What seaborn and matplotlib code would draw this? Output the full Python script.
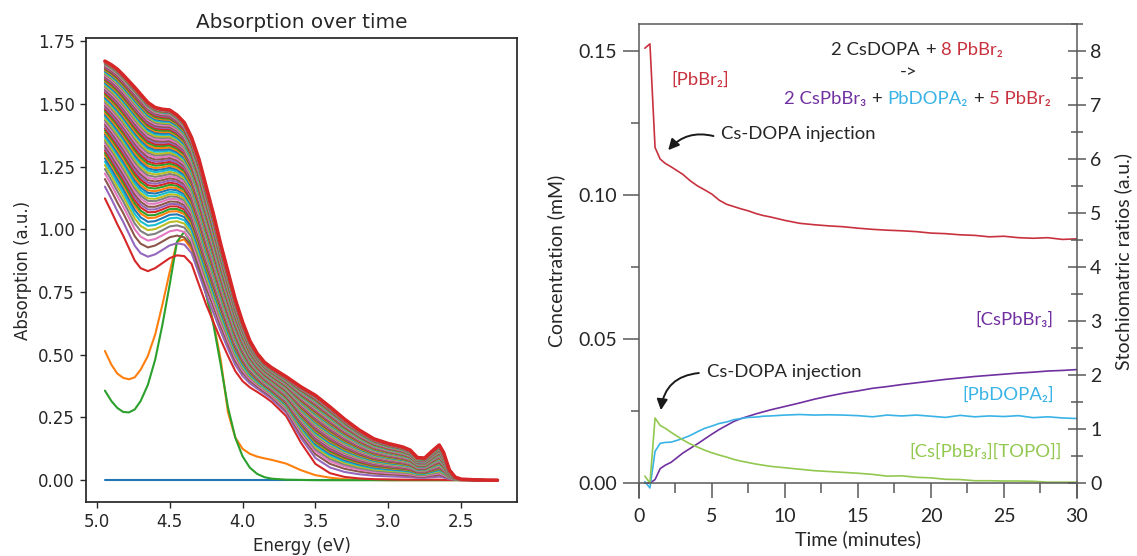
import numpy as np
import pandas as pd
import seaborn as sns
import matplotlib.pyplot as plt
from matplotlib.ticker import MultipleLocator, FormatStrFormatter

# ---------------- left panel: absorption spectra ----------------
energy = [4.945, 4.90, 4.86, 4.82, 4.78, 4.74, 4.70, 4.65, 4.60, 4.55,
          4.50, 4.45, 4.40, 4.35, 4.30, 4.25, 4.20, 4.15, 4.10, 4.05,
          4.00, 3.95, 3.90, 3.85, 3.80, 3.70, 3.60, 3.50, 3.40, 3.30,
          3.20, 3.10, 3.00, 2.90, 2.85, 2.80, 2.75, 2.70, 2.65, 2.62,
          2.58, 2.54, 2.50, 2.40, 2.25]

# precursor spectra (curves 0-2)
abs_blank = [0.0] * 45
abs_orange = [0.515, 0.460, 0.425, 0.408, 0.402, 0.410, 0.440, 0.495, 0.580, 0.700,
              0.830, 0.950, 0.960, 0.920, 0.840, 0.740, 0.630, 0.480, 0.270, 0.170,
              0.125, 0.105, 0.094, 0.087, 0.081, 0.066, 0.040, 0.020, 0.010, 0.004,
              0.002, 0.001, 0.0, 0.0, 0.0, 0.0, 0.0, 0.0, 0.0, 0.0,
              0.0, 0.0, 0.0, 0.0, 0.0]
abs_green = [0.357, 0.315, 0.288, 0.272, 0.270, 0.282, 0.315, 0.380, 0.480, 0.620,
             0.780, 0.950, 0.990, 0.940, 0.840, 0.740, 0.620, 0.460, 0.290, 0.170,
             0.095, 0.050, 0.025, 0.012, 0.006, 0.002, 0.001, 0.0, 0.0, 0.0,
             0.0, 0.0, 0.0, 0.0, 0.0, 0.0, 0.0, 0.0, 0.0, 0.0,
             0.0, 0.0, 0.0, 0.0, 0.0]

# first nanocrystal spectrum (curve 3) and final spectrum (top curve)
abs_first = [1.123, 1.070, 1.020, 0.975, 0.925, 0.875, 0.845, 0.833, 0.845, 0.865,
             0.885, 0.896, 0.893, 0.862, 0.780, 0.700, 0.630, 0.560, 0.495, 0.435,
             0.395, 0.370, 0.352, 0.333, 0.312, 0.255, 0.150, 0.065, 0.028, 0.013,
             0.007, 0.004, 0.003, 0.002, 0.002, 0.002, 0.002, 0.002, 0.002, 0.001,
             0.001, 0.001, 0.0, 0.0, 0.0]
abs_last = [1.670, 1.655, 1.638, 1.615, 1.590, 1.565, 1.538, 1.505, 1.485, 1.478,
            1.475, 1.455, 1.425, 1.365, 1.280, 1.170, 1.060, 0.940, 0.830, 0.720,
            0.630, 0.555, 0.505, 0.470, 0.448, 0.412, 0.372, 0.338, 0.292, 0.243,
            0.200, 0.165, 0.146, 0.132, 0.120, 0.090, 0.088, 0.115, 0.140, 0.110,
            0.040, 0.012, 0.004, 0.001, 0.0]

# absorption at 4.945 eV of each nanocrystal spectrum
edge_values = [1.123, 1.170, 1.200, 1.222, 1.240, 1.256, 1.270, 1.283, 1.295,
               1.304, 1.314, 1.323, 1.332, 1.342, 1.351, 1.359, 1.368,
               1.377, 1.385, 1.394, 1.402, 1.410, 1.418, 1.426, 1.434,
               1.442, 1.450, 1.457, 1.464, 1.472, 1.479, 1.486, 1.493,
               1.500, 1.507, 1.513, 1.520, 1.526, 1.532, 1.539, 1.545,
               1.551, 1.556, 1.562, 1.568, 1.573, 1.579, 1.584, 1.589,
               1.594, 1.599, 1.604, 1.608, 1.613, 1.618, 1.622, 1.626,
               1.630, 1.634, 1.638, 1.642, 1.646, 1.649, 1.653, 1.656,
               1.658, 1.659, 1.660, 1.661, 1.662, 1.663, 1.664, 1.665,
               1.666, 1.666, 1.667, 1.668, 1.668, 1.669, 1.669, 1.670]

# ---------------- right panel: concentrations ----------------
time_min = [0.4, 0.75, 1.1, 1.45, 1.8, 2.2, 2.6, 3.0, 3.5, 4.0,
            4.5, 5.0, 5.5, 6.0, 6.5, 7.0, 7.5, 8.0, 8.5, 9.0,
            10, 11, 12, 13, 14, 15, 16, 17, 18, 19,
            20, 21, 22, 23, 24, 25, 26, 27, 28, 29, 30]
conc_pbbr2 = [0.1510, 0.1525, 0.1165, 0.1125, 0.1110, 0.1098, 0.1085, 0.1072, 0.1050, 0.1032,
              0.1018, 0.1003, 0.0982, 0.0968, 0.0960, 0.0952, 0.0945, 0.0936, 0.0929, 0.0924,
              0.0912, 0.0902, 0.0897, 0.0893, 0.0890, 0.0885, 0.0881, 0.0878, 0.0876, 0.0873,
              0.0868, 0.0866, 0.0862, 0.0860, 0.0855, 0.0857, 0.0852, 0.0850, 0.0852, 0.0846, 0.0848]
conc_cspbbr3 = [0.0, 0.0, 0.0012, 0.0050, 0.0062, 0.0072, 0.0088, 0.0104, 0.0120, 0.0136,
                0.0153, 0.0170, 0.0186, 0.0200, 0.0214, 0.0224, 0.0232, 0.0240, 0.0247, 0.0254,
                0.0266, 0.0278, 0.0291, 0.0302, 0.0312, 0.0320, 0.0329, 0.0335, 0.0342, 0.0348,
                0.0354, 0.0360, 0.0365, 0.0370, 0.0374, 0.0378, 0.0382, 0.0385, 0.0389, 0.0391, 0.0394]
conc_pbdopa2 = [0.0005, -0.0017, 0.0110, 0.0138, 0.0141, 0.0142, 0.0148, 0.0155, 0.0165, 0.0178,
                0.0190, 0.0198, 0.0207, 0.0212, 0.0220, 0.0224, 0.0228, 0.0229, 0.0232, 0.0233,
                0.0236, 0.0238, 0.0236, 0.0237, 0.0236, 0.0234, 0.0230, 0.0236, 0.0233, 0.0236,
                0.0232, 0.0228, 0.0235, 0.0230, 0.0233, 0.0231, 0.0234, 0.0227, 0.0230, 0.0226, 0.0224]
conc_topo = [0.0024, 0.0, 0.0226, 0.0200, 0.0190, 0.0176, 0.0163, 0.0150, 0.0136, 0.0125,
             0.0114, 0.0105, 0.0097, 0.0090, 0.0082, 0.0076, 0.0071, 0.0066, 0.0062, 0.0058,
             0.0053, 0.0048, 0.0043, 0.0040, 0.0037, 0.0034, 0.0030, 0.0024, 0.0025, 0.0020,
             0.0018, 0.0013, 0.0012, 0.0008, 0.0008, 0.0007, 0.0007, 0.0006, 0.0003, 0.0003, 0.0003]

RED = '#c8323f'
PURPLE = '#7030a0'
CYAN = '#39b3e6'
GREEN = '#92c84f'
INK = '#262626'
GRAY = '#595959'

sns.set_theme(style="ticks")
plt.rcParams['font.family'] = ['DejaVu Sans']
plt.rcParams['font.size'] = 12
plt.rcParams['xtick.labelsize'] = 12
plt.rcParams['ytick.labelsize'] = 12
RFONT = ['Lato', 'Noto Sans', 'DejaVu Sans']
RTICK = 14
RTEXT = 13.3

fig = plt.figure(figsize=(11.37, 5.56), dpi=100)
ax1 = fig.add_axes([0.0756, 0.0971, 0.3791, 0.8345])
ax = fig.add_axes([0.5620, 0.1043, 0.3852, 0.8525])

# ---- spectra, long-form ----
spectra = [abs_blank, abs_orange, abs_green]
first = np.array(abs_first)
last = np.array(abs_last)
for v in edge_values:
    w = (v - edge_values[0]) / (edge_values[-1] - edge_values[0])
    spectra.append(first + w * (last - first))

rows = []
for k, spec in enumerate(spectra):
    for e, a in zip(energy, spec):
        rows.append((f"c{k:03d}", e, a))
df_abs = pd.DataFrame(rows, columns=['curve', 'energy', 'absorption'])
tab10 = sns.color_palette('tab10', 10)
levels = [f"c{k:03d}" for k in range(len(spectra))]
pal = {lev: tab10[k % 10] for k, lev in enumerate(levels)}

sns.lineplot(data=df_abs, x='energy', y='absorption', hue='curve', hue_order=levels,
             palette=pal, legend=False, sort=False, estimator=None, lw=1.5, ax=ax1)
sns.lineplot(data=df_abs[df_abs.curve == levels[-1]], x='energy', y='absorption',
             color=pal[levels[-1]], sort=False, estimator=None, lw=2.6, ax=ax1)

ax1.set_xlim(5.075, 2.116)
ax1.set_ylim(-0.087, 1.762)
ax1.xaxis.set_major_locator(MultipleLocator(0.5))
ax1.yaxis.set_major_locator(MultipleLocator(0.25))
ax1.yaxis.set_major_formatter(FormatStrFormatter('%.2f'))
ax1.set_title('Absorption over time', fontsize=14.4, pad=7)
ax1.set_xlabel('Energy (eV)', fontsize=12)
ax1.set_ylabel('Absorption (a.u.)', fontsize=12)
ax1.tick_params(length=4.5, width=1.0)

# ---- concentrations ----
df_c = pd.DataFrame({
    'time': time_min * 4,
    'conc': conc_pbbr2 + conc_cspbbr3 + conc_pbdopa2 + conc_topo,
    'species': ['PbBr2'] * len(time_min) + ['CsPbBr3'] * len(time_min)
               + ['PbDOPA2'] * len(time_min) + ['TOPO'] * len(time_min),
})
sns.lineplot(data=df_c, x='time', y='conc', hue='species',
             hue_order=['PbBr2', 'CsPbBr3', 'PbDOPA2', 'TOPO'],
             palette={'PbBr2': RED, 'CsPbBr3': PURPLE, 'PbDOPA2': CYAN, 'TOPO': GREEN},
             legend=False, sort=False, estimator=None, lw=1.2, ax=ax)

ax.set_xlim(0, 30)
ax.set_ylim(-0.0052, 0.1594)
ax.spines['bottom'].set_position(('data', 0))
ax.spines['right'].set_visible(False)
for s in ['left', 'bottom', 'top']:
    ax.spines[s].set_color(GRAY)
    ax.spines[s].set_linewidth(1.1)
ax.xaxis.set_major_locator(MultipleLocator(5))
ax.xaxis.set_minor_locator(MultipleLocator(2.5))
ax.yaxis.set_major_locator(MultipleLocator(0.05))
ax.yaxis.set_minor_locator(MultipleLocator(0.025))
ax.yaxis.set_major_formatter(FormatStrFormatter('%.2f'))
ax.tick_params(axis='x', which='major', direction='out', length=11, width=1.1, color=GRAY,
               pad=7, labelsize=RTICK, labelcolor=INK, labelfontfamily=RFONT)
ax.tick_params(axis='x', which='minor', direction='out', length=7, width=1.1, color=GRAY)
ax.tick_params(axis='y', which='major', direction='out', length=11.5, width=1.1, color=GRAY,
               pad=4, labelsize=RTICK, labelcolor=INK, labelfontfamily=RFONT)
ax.tick_params(axis='y', which='minor', direction='out', length=5.5, width=1.1, color=GRAY)
ax.set_xlabel('Time (minutes)', fontsize=RTICK, color=INK, family=RFONT, labelpad=4)
ax.set_ylabel('Concentration (mM)', fontsize=RTICK, color=INK, family=RFONT, labelpad=10)

ax2 = ax.twinx()
ax2.set_ylim(-0.278, 8.5)
ax2.spines['bottom'].set_visible(False)
ax2.spines['left'].set_visible(False)
ax2.spines['top'].set_visible(False)
ax2.spines['right'].set_color(GRAY)
ax2.spines['right'].set_linewidth(1.1)
ax2.yaxis.set_major_locator(MultipleLocator(1))
ax2.yaxis.set_minor_locator(MultipleLocator(0.5))
ax2.tick_params(axis='y', which='major', direction='inout', length=13, width=1.1, color=GRAY,
                pad=3, labelsize=RTICK, labelcolor=INK, labelfontfamily=RFONT)
ax2.tick_params(axis='y', which='minor', direction='inout', length=9, width=1.1, color=GRAY)
ax2.set_ylabel('Stochiomatric ratios (a.u.)', fontsize=RTICK, color=INK, family=RFONT, labelpad=9)

tkw = dict(fontsize=RTEXT, family=RFONT)


def colored_line(x, y, parts, gap=3.8):
    t = ax.text(x, y, parts[0][0], color=parts[0][1], transform=ax.transAxes,
                ha='left', va='center', **tkw)
    for s, c in parts[1:]:
        t = ax.annotate(s, xy=(1, 0), xycoords=t, xytext=(gap, 0), textcoords='offset points',
                        ha='left', va='bottom', color=c, **tkw)


colored_line(0.438, 0.945, [('2 CsDOPA', INK), ('+', INK), ('8 PbBr₂', RED)])
ax.text(0.616, 0.899, '->', color=INK, transform=ax.transAxes, ha='center', va='center', **tkw)
colored_line(0.331, 0.842, [('2 CsPbBr₃', PURPLE), ('+', INK), ('PbDOPA₂', CYAN),
                            ('+', INK), ('5 PbBr₂', RED)])

ax.text(0.075, 0.882, '[PbBr₂]', color=RED, transform=ax.transAxes, ha='left', va='center', **tkw)
ax.text(0.187, 0.768, 'Cs-DOPA injection', color=INK, transform=ax.transAxes,
        ha='left', va='center', **tkw)
ax.text(0.155, 0.266, 'Cs-DOPA injection', color=INK, transform=ax.transAxes,
        ha='left', va='center', **tkw)
ax.text(0.947, 0.3755, '[CsPbBr₃]', color=PURPLE, transform=ax.transAxes,
        ha='right', va='center', **tkw)
ax.text(0.947, 0.217, '[PbDOPA₂]', color=CYAN, transform=ax.transAxes,
        ha='right', va='center', **tkw)
ax.text(0.966, 0.097, '[Cs[PbBr₃][TOPO]]', color=GREEN, transform=ax.transAxes,
        ha='right', va='center', **tkw)

akw = dict(arrowstyle='-|>', color='#1a1a1a', lw=1.4, mutation_scale=16, shrinkA=0, shrinkB=0)
ax.annotate('', xy=(2.0, 0.1156), xytext=(5.1, 0.1205),
            arrowprops=dict(connectionstyle='arc3,rad=0.3', **akw))
ax.annotate('', xy=(1.5, 0.0253), xytext=(4.1, 0.0382),
            arrowprops=dict(connectionstyle='arc3,rad=0.4', **akw))

fig.savefig('out.png', dpi=100)
